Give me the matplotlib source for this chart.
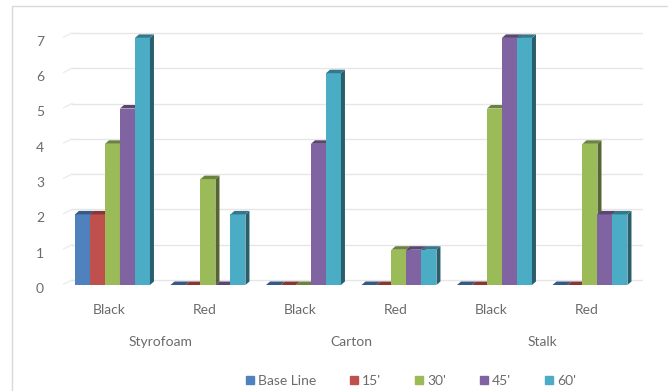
import numpy as np
import matplotlib.pyplot as plt
from matplotlib.patches import Polygon, Rectangle
from matplotlib.colors import to_rgb
from matplotlib.transforms import offset_copy

plt.rcParams['font.family'] = ['Lato', 'DejaVu Sans']

# data
materials = ['Styrofoam', 'Carton', 'Stalk']
colours_sub = ['Black', 'Red']
series = ["Base Line", "15'", "30'", "45'", "60'"]
base_line = [2, 0, 0, 0, 0, 0]
t15 = [2, 0, 0, 0, 0, 0]
t30 = [4, 3, 0, 1, 5, 4]
t45 = [5, 0, 4, 1, 7, 2]
t60 = [7, 2, 6, 1, 7, 2]
yticks = [0, 1, 2, 3, 4, 5, 6, 7]

palette = ['#4F81BD', '#C0504D', '#9BBB59', '#8064A2', '#4BACC6']
textcol = '#6b6b6b'

W, H = 668, 391
fig = plt.figure(figsize=(W / 100, H / 100), dpi=100)

# light frame around the chart area
fig.patches.append(Rectangle((12 / W, -0.1), 1.2, 1 - 6 / H + 0.1,
                             transform=fig.transFigure, fill=False,
                             edgecolor='#d9d9d9', lw=1))

px_left, px_right, px_bottom, px_top = 63, 643, 285, 25
ax = fig.add_axes([px_left / W, 1 - px_bottom / H,
                   (px_right - px_left) / W, (px_bottom - px_top) / H])
unit = 35.3
xmin, xmax = -0.518, 5.555
ymax = (px_bottom - px_top) / unit
ax.set_xlim(xmin, xmax)
ax.set_ylim(0, ymax)
ax.axis('off')

pxx = (px_right - px_left) / (xmax - xmin)
dx = 4 / pxx
dy = 3.5 / unit

# back wall gridlines with short slanted floor edge at the left
for v in yticks:
    gy = v + 5 / unit
    ax.plot([xmin, xmin + 9 / pxx], [v + 0.5 / unit, gy], color='#ececec', lw=1, zorder=0)
    ax.plot([xmin + 9 / pxx, xmax], [gy, gy], color='#e6e6e6', lw=1, zorder=0)

# y tick labels
lab_tr = offset_copy(ax.get_yaxis_transform(), fig=fig, x=-19, y=-4, units='dots')
for v in yticks:
    ax.text(0, v, str(v), transform=lab_tr, ha='right', va='center',
            fontsize=10, color=textcol)


def shade(c, f):
    r, g, b = to_rgb(c)
    return (r * f, g * f, b * f)


values = [base_line, t15, t30, t45, t60]
x = np.arange(len(base_line))
bw = 0.157
z = 2
for j in range(len(x)):
    for i, vals in enumerate(values):
        left = x[j] - 2.5 * bw + i * bw
        h = vals[j]
        c = palette[i]
        ax.bar(left, h, width=bw, align='edge', color=c, lw=0, zorder=z)
        side = [(left + bw, 0), (left + bw + dx, dy), (left + bw + dx, h + dy), (left + bw, h)]
        top = [(left, h), (left + dx, h + dy), (left + bw + dx, h + dy), (left + bw, h)]
        ax.add_patch(Polygon(side, closed=True, color=shade(c, 0.55), lw=0, zorder=z))
        ax.add_patch(Polygon(top, closed=True, color=shade(c, 0.7), lw=0, zorder=z))
        z += 1

# category labels
for j in range(len(x)):
    ax.text(x[j] - 0.03, -25 / unit, colours_sub[j % 2], ha='center', va='center',
            fontsize=10, color=textcol, clip_on=False)
for k, m in enumerate(materials):
    ax.text(2 * k + 0.5, -57 / unit, m, ha='center', va='center',
            fontsize=10, color=textcol, clip_on=False)

handles = [Rectangle((0, 0), 1, 1, color=c) for c in palette]
leg = fig.legend(handles, series, loc='center', bbox_to_anchor=(411 / W, 1 - 381 / H),
                 ncol=5, frameon=False, fontsize=10, handlelength=0.55, handleheight=0.55,
                 handletextpad=0.3, columnspacing=2.45, labelcolor=textcol)

fig.savefig('out.png', dpi=100)
